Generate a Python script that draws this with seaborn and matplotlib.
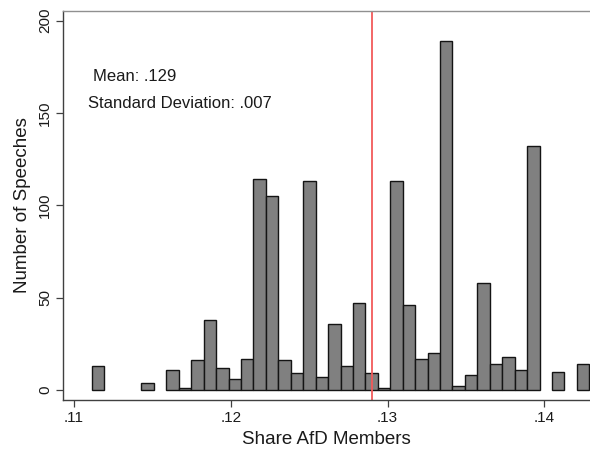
import matplotlib
matplotlib.use("Agg")
import numpy as np
import pandas as pd
import matplotlib.pyplot as plt
import seaborn as sns

# ------------------------------
# Data
# ------------------------------
bin_start = 0.111129
bin_width = 0.00079353
counts = [13, 0, 0, 0, 4, 0, 11, 1, 16, 38,
          12, 6, 17, 114, 105, 16, 9, 113, 7, 36,
          13, 47, 9, 1, 113, 46, 17, 20, 189, 2,
          8, 58, 14, 18, 11, 132, 0, 10, 0, 14]
mean_share = 0.129
sd_share = 0.007
x_ticks = [0.11, 0.12, 0.13, 0.14]
x_tick_labels = [".11", ".12", ".13", ".14"]
y_ticks = [0, 50, 100, 150, 200]

edges = bin_start + bin_width * np.arange(len(counts) + 1)
centers = (edges[:-1] + edges[1:]) / 2
df = pd.DataFrame({"share": centers, "n": counts})

# ------------------------------
# Plot
# ------------------------------
sns.set_style("white")
plt.rcParams["font.family"] = ["Liberation Sans", "DejaVu Sans"]

fig = plt.figure(figsize=(5.9, 4.53), dpi=100)
ax = fig.add_axes([0.1073, 0.117, 0.8927, 0.8594])

# bins as a plain list: seaborn chokes on an ndarray together with weights
sns.histplot(data=df, x="share", weights="n", bins=edges.tolist(), ax=ax,
             color="#808080", edgecolor="#141414", linewidth=1.0, alpha=1)

# empty bins should not leave a flat outline
for p in ax.patches:
    if p.get_height() == 0:
        p.set_visible(False)

ax.axvline(mean_share, color="#f25a5a", lw=1.3)

ax.text(0.11121, 169.5, f"Mean: {str(round(mean_share, 3))[1:]}",
        fontsize=12, va="center", ha="left", color="#1a1a1a")
ax.text(0.11089, 155.4, f"Standard Deviation: {str(round(sd_share, 3))[1:]}",
        fontsize=12, va="center", ha="left", color="#1a1a1a")

ax.set_xlim(0.109317, 0.142914)
ax.set_ylim(-5.42, 205.4)
ax.set_xticks(x_ticks)
ax.set_xticklabels(x_tick_labels)
ax.set_yticks(y_ticks)
plt.setp(ax.get_yticklabels(), rotation=90, va="center")

ax.tick_params(axis="both", direction="out", length=5, width=0.9,
               color="#404040", labelsize=11, labelcolor="#1a1a1a", pad=3)
ax.tick_params(axis="x", bottom=True)
ax.tick_params(axis="y", left=True)

ax.set_xlabel("Share AfD Members", fontsize=13.5, color="#1a1a1a", labelpad=4)
ax.set_ylabel("Number of Speeches", fontsize=13.5, color="#1a1a1a", labelpad=5)

for side in ["left", "bottom"]:
    ax.spines[side].set_color("#404040")
    ax.spines[side].set_linewidth(1.0)
ax.spines["top"].set_color("#909090")
ax.spines["top"].set_linewidth(1.0)
ax.spines["right"].set_visible(False)

fig.savefig("out.png", dpi=100)
